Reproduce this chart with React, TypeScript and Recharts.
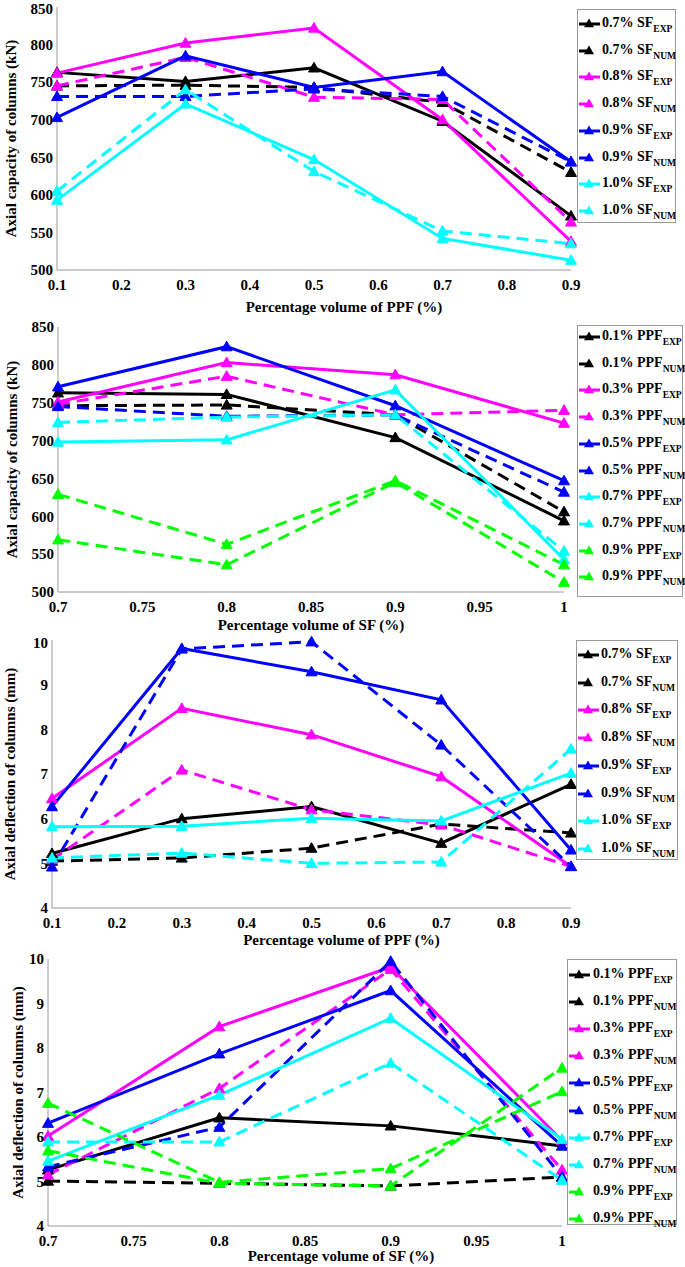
import React from 'react'
import { LineChart, Line, XAxis, YAxis } from 'recharts'

// x positions
const ppfLevels = [0.1, 0.3, 0.5, 0.7, 0.9]
const sfLevels = [0.7, 0.8, 0.9, 1.0]

// tick labels
const ppfTicks = [0.1, 0.2, 0.3, 0.4, 0.5, 0.6, 0.7, 0.8, 0.9]
const sfTicks = [0.7, 0.75, 0.8, 0.85, 0.9, 0.95, 1]
const capTicks = [500, 550, 600, 650, 700, 750, 800, 850]
const defTicks = [4, 5, 6, 7, 8, 9, 10]

// panel 1: axial capacity (kN) vs PPF, by SF
const capSf07Exp = [763, 751, 769, 698, 572]
const capSf07Num = [745, 746, 743, 723, 630]
const capSf08Exp = [762, 802, 822, 700, 538]
const capSf08Num = [745, 783, 730, 727, 564]
const capSf09Exp = [703, 785, 743, 764, 644]
const capSf09Num = [731, 731, 741, 731, 644]
const capSf10Exp = [593, 721, 647, 542, 513]
const capSf10Num = [605, 740, 631, 552, 535]

// panel 2: axial capacity (kN) vs SF, by PPF
const capPpf01Exp = [763, 761, 704, 594]
const capPpf01Num = [746, 747, 734, 606]
const capPpf03Exp = [751, 803, 787, 723]
const capPpf03Num = [748, 785, 734, 740]
const capPpf05Exp = [771, 824, 746, 647]
const capPpf05Num = [745, 732, 734, 632]
const capPpf07Exp = [698, 701, 767, 543]
const capPpf07Num = [724, 731, 734, 554]
const capPpf09Exp = [629, 563, 647, 536]
const capPpf09Num = [569, 536, 645, 513]

// panel 3: axial deflection (mm) vs PPF, by SF
const defSf07Exp = [5.22, 6.0, 6.27, 5.45, 6.77]
const defSf07Num = [5.05, 5.12, 5.34, 5.88, 5.68]
const defSf08Exp = [6.45, 8.47, 7.88, 6.94, 4.93]
const defSf08Num = [5.08, 7.09, 6.2, 5.86, 4.93]
const defSf09Exp = [6.27, 9.81, 9.29, 8.66, 5.3]
const defSf09Num = [4.92, 9.8, 9.96, 7.65, 4.93]
const defSf10Exp = [5.82, 5.83, 6.01, 5.95, 7.02]
const defSf10Num = [5.12, 5.23, 5.0, 5.03, 7.56]

// panel 4: axial deflection (mm) vs SF, by PPF
const defPpf01Exp = [5.26, 6.43, 6.25, 5.8]
const defPpf01Num = [5.01, 4.96, 4.9, 5.1]
const defPpf03Exp = [6.02, 8.48, 9.82, 5.92]
const defPpf03Num = [5.15, 7.09, 9.77, 5.26]
const defPpf05Exp = [6.31, 7.87, 9.29, 5.8]
const defPpf05Num = [5.33, 6.22, 9.95, 5.1]
const defPpf07Exp = [5.46, 6.94, 8.67, 5.95]
const defPpf07Num = [5.89, 5.89, 7.66, 5.03]
const defPpf09Exp = [6.76, 4.98, 5.29, 7.02]
const defPpf09Num = [5.69, 4.96, 4.9, 7.55]

const FONT = '"Liberation Serif", "Times New Roman", serif'
const BLACK = '#000000'
const MAGENTA = '#ff00ff'
const BLUE = '#0000ff'
const CYAN = '#00ffff'
const GREEN = '#00ff00'
const FRAME = '#9a9a9a'

type Series = { name: string; sub: 'EXP' | 'NUM'; color: string; dashed: boolean; values: number[] }

const sfSeries = (v: number[][]): Series[] => [
  { name: '0.7% SF', sub: 'EXP', color: BLACK, dashed: false, values: v[0] },
  { name: '0.7% SF', sub: 'NUM', color: BLACK, dashed: true, values: v[1] },
  { name: '0.8% SF', sub: 'EXP', color: MAGENTA, dashed: false, values: v[2] },
  { name: '0.8% SF', sub: 'NUM', color: MAGENTA, dashed: true, values: v[3] },
  { name: '0.9% SF', sub: 'EXP', color: BLUE, dashed: false, values: v[4] },
  { name: '0.9% SF', sub: 'NUM', color: BLUE, dashed: true, values: v[5] },
  { name: '1.0% SF', sub: 'EXP', color: CYAN, dashed: false, values: v[6] },
  { name: '1.0% SF', sub: 'NUM', color: CYAN, dashed: true, values: v[7] },
]

const ppfSeries = (v: number[][]): Series[] => [
  { name: '0.1% PPF', sub: 'EXP', color: BLACK, dashed: false, values: v[0] },
  { name: '0.1% PPF', sub: 'NUM', color: BLACK, dashed: true, values: v[1] },
  { name: '0.3% PPF', sub: 'EXP', color: MAGENTA, dashed: false, values: v[2] },
  { name: '0.3% PPF', sub: 'NUM', color: MAGENTA, dashed: true, values: v[3] },
  { name: '0.5% PPF', sub: 'EXP', color: BLUE, dashed: false, values: v[4] },
  { name: '0.5% PPF', sub: 'NUM', color: BLUE, dashed: true, values: v[5] },
  { name: '0.7% PPF', sub: 'EXP', color: CYAN, dashed: false, values: v[6] },
  { name: '0.7% PPF', sub: 'NUM', color: CYAN, dashed: true, values: v[7] },
  { name: '0.9% PPF', sub: 'EXP', color: GREEN, dashed: true, values: v[8] },
  { name: '0.9% PPF', sub: 'NUM', color: GREEN, dashed: true, values: v[9] },
]

const triPath = (cx: number, cy: number, r = 5.5) =>
  `M${cx},${cy - r} L${cx + r},${cy + r * 0.75} L${cx - r},${cy + r * 0.75} Z`

const tickStyle = { fill: '#000', fontSize: 15, fontWeight: 'bold' as const, fontFamily: FONT }

type PanelProps = {
  top: number; height: number; xAxisHeight: number; marginTop: number; yAxisWidth: number; right: number
  xs: number[]; xTicks: number[]; yTicks: number[]
  xLabel: string; yLabel: string; xLabelDx: number; xLabelOffset: number; yLabelOffset: number
  series: Series[]
}

function Panel(p: PanelProps) {
  const data = p.xs.map((x, i) => {
    const row: Record<string, number> = { x }
    p.series.forEach((s, j) => { row['s' + j] = s.values[i] })
    return row
  })
  const xDomain = [p.xTicks[0], p.xTicks[p.xTicks.length - 1]]
  const yDomain = [p.yTicks[0], p.yTicks[p.yTicks.length - 1]]
  return (
    <div style={{ position: 'absolute', left: 0, top: p.top }}>
      <LineChart width={685} height={p.height} data={data} margin={{ top: p.marginTop, right: p.right, bottom: 0, left: 0 }}>
        <XAxis xAxisId="b" dataKey="x" type="number" domain={xDomain} ticks={p.xTicks} height={p.xAxisHeight}
          tickLine={false} axisLine={{ stroke: FRAME }} tickSize={0} tickMargin={9} tick={tickStyle}
          label={{ value: p.xLabel, position: 'insideBottom', offset: p.xLabelOffset, dx: p.xLabelDx, fill: '#000', fontSize: 15, fontWeight: 'bold', fontFamily: FONT }} />
        <XAxis xAxisId="bm" dataKey="x" type="number" domain={xDomain} ticks={p.xTicks} orientation="bottom" mirror
          height={0} tick={false} tickSize={5} stroke={FRAME} />
        <XAxis xAxisId="t" dataKey="x" type="number" domain={xDomain} ticks={p.xTicks} orientation="top" mirror
          height={0} tick={false} tickSize={5} stroke={FRAME} />
        <YAxis yAxisId="l" type="number" domain={yDomain} ticks={p.yTicks} width={p.yAxisWidth}
          tickLine={false} axisLine={{ stroke: FRAME }} tickSize={0} tickMargin={4} tick={tickStyle}
          label={{ value: p.yLabel, angle: -90, position: 'insideLeft', offset: p.yLabelOffset, fill: '#000', fontSize: 15, fontWeight: 'bold', fontFamily: FONT, style: { textAnchor: 'middle' } }} />
        <YAxis yAxisId="lm" type="number" domain={yDomain} ticks={p.yTicks} orientation="left" mirror
          width={0} tick={false} tickSize={5} stroke={FRAME} />
        <YAxis yAxisId="r" type="number" domain={yDomain} ticks={p.yTicks} orientation="right" mirror
          width={0} tick={false} tickSize={5} stroke={FRAME} />
        {p.series.map((s, j) => (
          <Line key={j} xAxisId="b" yAxisId="l" dataKey={'s' + j} type="linear" stroke={s.color} strokeWidth={3}
            strokeDasharray={s.dashed ? '12 7' : undefined} isAnimationActive={false} activeDot={false}
            dot={(d: any) => <path key={`d${j}-${d.index}`} d={triPath(d.cx, d.cy)} fill={s.color} stroke={s.color} strokeWidth={1} />} />
        ))}
      </LineChart>
    </div>
  )
}

function LegendBox({ series, left, top, width, height, firstY, step, textX }: {
  series: Series[]; left: number; top: number; width: number; height: number; firstY: number; step: number; textX: number
}) {
  return (
    <div style={{ position: 'absolute', left, top, width, height, border: `1px solid ${FRAME}`, background: '#fff', boxSizing: 'border-box' }}>
      {series.map((s, i) => (
        <div key={i} style={{ position: 'absolute', left: 0, top: firstY + i * step - 9, height: 18, width: width - 2 }}>
          <svg width={24} height={18} style={{ position: 'absolute', left: 0, top: 0 }}>
            <line x1={1} x2={s.dashed ? 11 : 22} y1={10} y2={10} stroke={s.color} strokeWidth={3} />
            <path d={triPath(11, 9.5, 5)} fill={s.color} />
          </svg>
          <span style={{ position: 'absolute', left: textX, top: 0, whiteSpace: 'nowrap', fontFamily: FONT, fontWeight: 'bold', fontSize: 14, lineHeight: '18px', color: '#000' }}>
            {s.name}
            <span style={{ fontSize: 9.5, position: 'relative', top: 5 }}>{s.sub}</span>
          </span>
        </div>
      ))}
    </div>
  )
}

export default function App() {
  const s1 = sfSeries([capSf07Exp, capSf07Num, capSf08Exp, capSf08Num, capSf09Exp, capSf09Num, capSf10Exp, capSf10Num])
  const s2 = ppfSeries([capPpf01Exp, capPpf01Num, capPpf03Exp, capPpf03Num, capPpf05Exp, capPpf05Num, capPpf07Exp, capPpf07Num, capPpf09Exp, capPpf09Num])
  const s3 = sfSeries([defSf07Exp, defSf07Num, defSf08Exp, defSf08Num, defSf09Exp, defSf09Num, defSf10Exp, defSf10Num])
  const s4 = ppfSeries([defPpf01Exp, defPpf01Num, defPpf03Exp, defPpf03Num, defPpf05Exp, defPpf05Num, defPpf07Exp, defPpf07Num, defPpf09Exp, defPpf09Num])
  return (
    <div style={{ position: 'absolute', left: 0, top: 0, width: 685, height: 1267, background: '#fff', fontFamily: FONT, overflow: 'hidden' }}>
      <Panel top={0} height={316} xAxisHeight={46} marginTop={7} yAxisWidth={57} right={114} xs={ppfLevels} xTicks={ppfTicks} yTicks={capTicks}
        xLabel="Percentage volume of PPF (%)" yLabel="Axial capacity of columns (kN)" xLabelDx={30} xLabelOffset={4} yLabelOffset={11} series={s1} />
      <Panel top={316} height={318} xAxisHeight={42} marginTop={11} yAxisWidth={58} right={121} xs={sfLevels} xTicks={sfTicks} yTicks={capTicks}
        xLabel="Percentage volume of SF (%)" yLabel="Axial capacity of columns (kN)" xLabelDx={0} xLabelOffset={4} yLabelOffset={12} series={s2} />
      <Panel top={634} height={315} xAxisHeight={41} marginTop={6} yAxisWidth={52} right={114} xs={ppfLevels} xTicks={ppfTicks} yTicks={defTicks}
        xLabel="Percentage volume of PPF (%)" yLabel="Axial deflection of columns (mm)" xLabelDx={30} xLabelOffset={4} yLabelOffset={10} series={s3} />
      <Panel top={949} height={318} xAxisHeight={41} marginTop={10} yAxisWidth={48} right={123} xs={sfLevels} xTicks={sfTicks} yTicks={defTicks}
        xLabel="Percentage volume of SF (%)" yLabel="Axial deflection of columns (mm)" xLabelDx={36} xLabelOffset={6} yLabelOffset={18} series={s4} />
      <LegendBox series={s1} left={577} top={9} width={99} height={214} firstY={13} step={26.7} textX={24} />
      <LegendBox series={s2} left={577} top={325} width={106} height={272} firstY={10} step={26.7} textX={24} />
      <LegendBox series={s3} left={576} top={640} width={102} height={220} firstY={13} step={27.7} textX={24} />
      <LegendBox series={s4} left={567} top={959} width={110} height={266} firstY={14} step={27.1} textX={25} />
    </div>
  )
}
